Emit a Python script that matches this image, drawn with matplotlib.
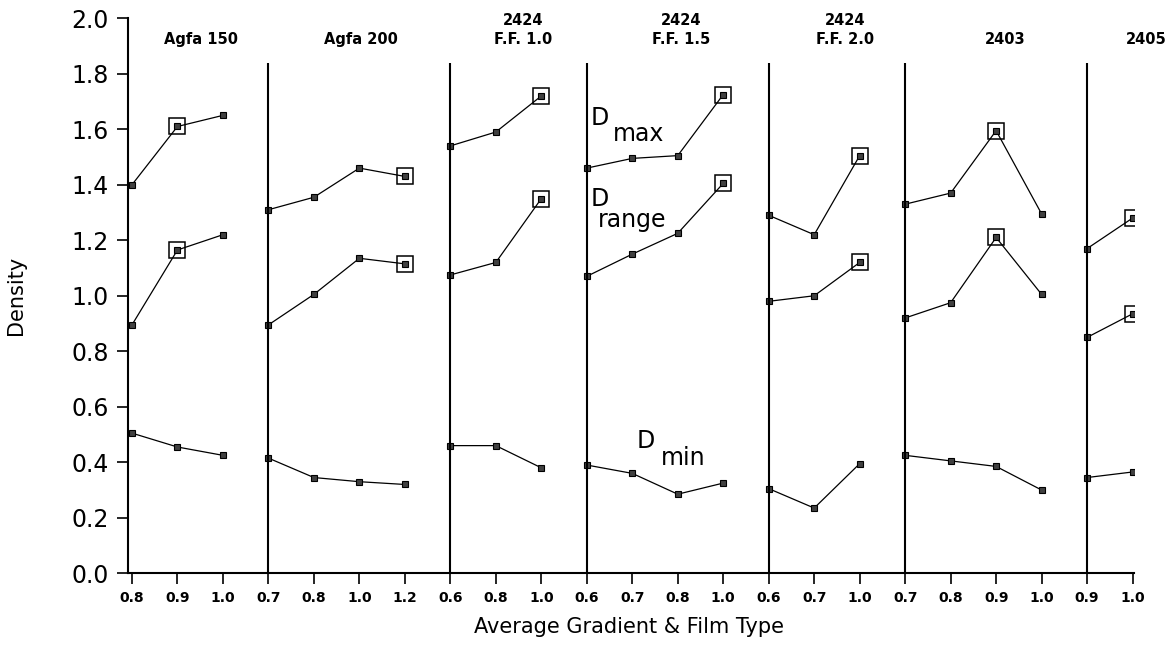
import numpy as np
import matplotlib
matplotlib.use('Agg')
import matplotlib.pyplot as plt

# film groups and their average gradient ticks
groups = ['Agfa 150', 'Agfa 200', '2424\nF.F. 1.0', '2424\nF.F. 1.5',
          '2424\nF.F. 2.0', '2403', '2405']
gradients = [
    ['0.8', '0.9', '1.0'],
    ['0.7', '0.8', '1.0', '1.2'],
    ['0.6', '0.8', '1.0'],
    ['0.6', '0.7', '0.8', '1.0'],
    ['0.6', '0.7', '1.0'],
    ['0.7', '0.8', '0.9', '1.0'],
    ['0.9', '1.0'],
]

# densities, in tick order
d_max = [1.40, 1.61, 1.65,
         1.31, 1.355, 1.46, 1.43,
         1.54, 1.59, 1.72,
         1.46, 1.495, 1.505, 1.725,
         1.29, 1.22, 1.505,
         1.33, 1.37, 1.595, 1.295,
         1.17, 1.28]
d_range = [0.895, 1.165, 1.22,
           0.895, 1.005, 1.135, 1.115,
           1.075, 1.12, 1.35,
           1.07, 1.15, 1.225, 1.405,
           0.98, 1.00, 1.12,
           0.92, 0.975, 1.21, 1.005,
           0.85, 0.935]
d_min = [0.505, 0.455, 0.425,
         0.415, 0.345, 0.33, 0.32,
         0.46, 0.46, 0.38,
         0.39, 0.36, 0.285, 0.325,
         0.305, 0.235, 0.395,
         0.425, 0.405, 0.385, 0.30,
         0.345, 0.365]

# optimum gradient of each film (boxed points)
boxed = [1, 6, 9, 13, 16, 19, 22]

# layout only
label_x = [1.52, 5.03, 8.59, 12.08, 15.68, 19.21, 22.3]

fig = plt.figure(figsize=(11.73, 6.45), dpi=100)
ax = fig.add_axes([0.1094, 0.1112, 0.8573, 0.8605])

sizes = [len(g) for g in gradients]
starts = np.cumsum([0] + sizes[:-1])
ticklabels = [t for g in gradients for t in g]
x = np.arange(len(ticklabels))

for series in (d_max, d_range, d_min):
    y = np.array(series)
    for s, n in zip(starts, sizes):
        ax.plot(x[s:s + n], y[s:s + n], '-', color='black', lw=0.9,
                marker='s', ms=4.5, mfc='0.25', mec='black', mew=0.8)

for series in (d_max, d_range):
    y = np.array(series)
    ax.plot(x[boxed], y[boxed], 's', ms=11, mfc='none', mec='black', mew=1.1)

# group separators
ax.vlines(starts[1:], 0, 1.84, color='black', lw=1.5)

for name, gx in zip(groups, label_x):
    if '\n' in name:
        yy = 1.0 - (30 - 18.3) / 555
    else:
        yy = 1.0 - (40 - 18.3) / 555
    ax.text(gx, yy, name, transform=ax.get_xaxis_transform(), ha='center',
            va='center', fontsize=10.5, fontweight='bold', linespacing=1.4,
            clip_on=False)

# curve names
ax.text(10.09, 1.615, 'D', fontsize=17, ha='left', va='baseline')
ax.text(10.58, 1.558, 'max', fontsize=17, ha='left', va='baseline')
ax.text(10.09, 1.325, 'D', fontsize=17, ha='left', va='baseline')
ax.text(10.25, 1.249, 'range', fontsize=17, ha='left', va='baseline')
ax.text(11.10, 0.450, 'D', fontsize=17, ha='left', va='baseline')
ax.text(11.62, 0.390, 'min', fontsize=17, ha='left', va='baseline')

ax.set_xlim(-0.08, 22.03)
ax.set_ylim(0, 2.0)
ax.set_xticks(x)
ax.set_xticklabels(ticklabels, fontsize=10, fontweight='bold')
ax.set_yticks(np.arange(0, 2.01, 0.2))
ax.set_yticklabels([f'{v:.1f}' for v in np.arange(0, 2.01, 0.2)], fontsize=17)
ax.tick_params(axis='x', direction='out', length=8, width=1.2, pad=4.5)
ax.tick_params(axis='y', direction='out', length=8, width=1.2, pad=6)

for side in ('top', 'right'):
    ax.spines[side].set_visible(False)
ax.spines['left'].set_linewidth(1.5)
ax.spines['bottom'].set_linewidth(1.5)

ax.set_ylabel('Density', fontsize=15)
ax.yaxis.set_label_coords(-0.1017, 0.5)
ax.set_xlabel('Average Gradient & Film Type', fontsize=15)
ax.xaxis.set_label_coords(0.498, -0.0968)
ax.xaxis.label.set_va('center')

plt.savefig('out.png', dpi=100)
